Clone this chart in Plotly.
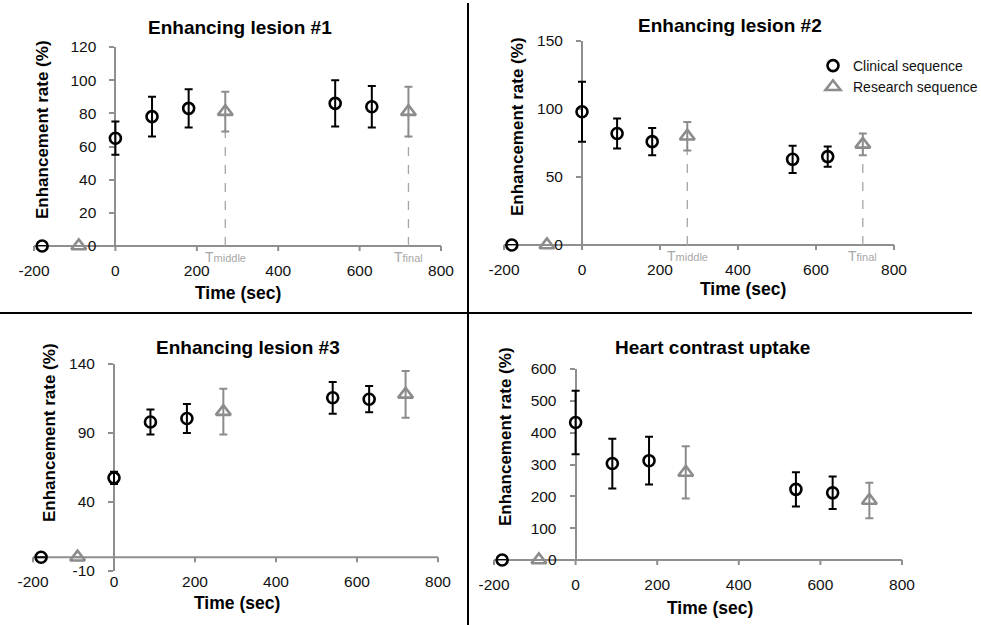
import plotly.graph_objects as go

W, H = 981, 625

# ---------------- data ----------------
clinical_time = [-180, 0, 90, 180, 540, 630]
research_time = [-90, 270, 720]

lesion1_clinical = [0, 65, 78, 83, 86, 84]
lesion1_clinical_err = [None, 10, 12, 11.5, 14, 12.5]
lesion1_research = [0, 81, 81]
lesion1_research_err = [None, 12, 15]

lesion2_clinical = [0, 98, 82, 76, 63, 65]
lesion2_clinical_err = [None, 22, 11, 10, 10, 7.5]
lesion2_research = [0, 80, 74]
lesion2_research_err = [None, 10.5, 8]

lesion3_clinical = [0, 57.5, 98, 100.5, 115.5, 114.5]
lesion3_clinical_err = [None, 4.5, 9, 10.5, 11.5, 9.5]
lesion3_research = [0, 105.5, 118]
lesion3_research_err = [None, 16.5, 17]

heart_clinical = [0, 432, 303, 312, 222, 211]
heart_clinical_err = [None, 100, 78, 75, 54, 51]
heart_research = [0, 275, 187]
heart_research_err = [None, 82, 56]

panel_titles = ["Enhancing lesion #1", "Enhancing lesion #2",
                "Enhancing lesion #3", "Heart contrast uptake"]
x_ticks = [-200, 0, 200, 400, 600, 800]
x_tick_labels = ["-200", "0", "200", "400", "600", "800"]
y_ticks = [[0, 20, 40, 60, 80, 100, 120],
           [0, 50, 100, 150],
           [-10, 40, 90, 140],
           [0, 100, 200, 300, 400, 500, 600]]
y_tick_labels = [["0", "20", "40", "60", "80", "100", "120"],
                 ["0", "50", "100", "150"],
                 ["-10", "40", "90", "140"],
                 ["0", "100", "200", "300", "400", "500", "600"]]
marker_labels = ["T<span style='font-size:11px'>middle</span>",
                 "T<span style='font-size:11px'>final</span>"]

series = [
    (lesion1_clinical, lesion1_clinical_err, lesion1_research, lesion1_research_err),
    (lesion2_clinical, lesion2_clinical_err, lesion2_research, lesion2_research_err),
    (lesion3_clinical, lesion3_clinical_err, lesion3_research, lesion3_research_err),
    (heart_clinical, heart_clinical_err, heart_research, heart_research_err),
]

# ---------------- layout geometry (pixels) ----------------
# (x_left_px, x_right_px, y_bottom_px, y_top_px)
panel_px = [
    (34, 441, 246, 47),
    (504, 894, 245, 41),
    (33, 438, 571, 364),
    (494, 902, 560, 369),
]
title_px = [(240, 27), (730, 25), (248, 347), (712, 347)]
ytitle_px = [(43, 130), (517, 127), (49, 433), (505, 436)]
xtitle_px = [(238, 293), (743, 289), (237, 603), (710, 608)]
TICK_PX = 5

FONT = "Liberation Sans, Arial, sans-serif"
BLACK = "#000000"
GREY = "#8c8c8c"
AXIS = "#8f8f8f"
XR = [-200, 800]

fig = go.Figure()
annotations = []
shapes = []

for i in range(4):
    n = i + 1
    xs = "" if n == 1 else str(n)
    xl, xr, yb, yt = panel_px[i]
    yr = [y_ticks[i][0], y_ticks[i][-1]]
    dx0, dx1 = xl / W, xr / W
    dy0, dy1 = 1 - yb / H, 1 - yt / H
    # paper position of the data-zero crossing for each axis
    ypos_of_x0 = dx0 + (0 - XR[0]) / (XR[1] - XR[0]) * (dx1 - dx0)
    xpos_of_y0 = dy0 + (0 - yr[0]) / (yr[1] - yr[0]) * (dy1 - dy0)

    fig.update_layout(**{
        f"xaxis{xs}": dict(domain=[dx0, dx1], range=XR, anchor="free",
                           position=xpos_of_y0, showline=False, ticks="",
                           tickvals=x_ticks, ticktext=x_tick_labels,
                           ticklabelstandoff=13, showgrid=False, zeroline=False,
                           tickfont=dict(family=FONT, size=15.5, color="#111")),
        f"yaxis{xs}": dict(domain=[dy0, dy1], range=yr, anchor="free",
                           position=ypos_of_x0, showline=True, linecolor=AXIS,
                           linewidth=2, ticks="outside", ticklen=TICK_PX,
                           tickcolor=AXIS, tickwidth=2, tickvals=y_ticks[i],
                           ticktext=y_tick_labels[i], layer="below traces",
                           ticklabelstandoff=10, showgrid=False, zeroline=False,
                           tickfont=dict(family=FONT, size=15.5, color="#111")),
    })

    # time-axis line at y = 0 and its tick marks (paper coordinates)
    shapes.append(dict(type="line", xref="paper", yref="paper", layer="below",
                       x0=dx0, x1=dx1, y0=xpos_of_y0, y1=xpos_of_y0,
                       line=dict(color=AXIS, width=2)))
    for t in x_ticks:
        xp = dx0 + (t - XR[0]) / (XR[1] - XR[0]) * (dx1 - dx0)
        shapes.append(dict(type="line", xref="paper", yref="paper",
                           layer="below", x0=xp, x1=xp, y0=xpos_of_y0,
                           y1=xpos_of_y0 - TICK_PX / H,
                           line=dict(color=AXIS, width=2)))

    cl, cle, rs, rse = series[i]
    xa, ya = f"x{xs}", f"y{xs}"

    # dashed guide lines to research time points (panels 1 and 2)
    if i < 2:
        for k, t in enumerate(research_time[1:]):
            fig.add_trace(go.Scatter(
                x=[t, t], y=[0, rs[k + 1]], mode="lines", xaxis=xa, yaxis=ya,
                line=dict(color="#a5a5a5", width=1.3, dash="dash"),
                showlegend=False, hoverinfo="skip", cliponaxis=False))
            annotations.append(dict(
                x=t, y=0, xref=xa, yref=ya, yshift=-11, showarrow=False,
                text=marker_labels[k],
                font=dict(family=FONT, size=14, color="#a8a8a8")))

    fig.add_trace(go.Scatter(
        x=clinical_time, y=cl, mode="markers", xaxis=xa, yaxis=ya,
        name="Clinical sequence", legendgroup="c", showlegend=(i == 1),
        marker=dict(symbol="circle-open", size=11, color=BLACK,
                    line=dict(width=2.6, color=BLACK)),
        error_y=dict(type="data", array=cle, visible=True, color=BLACK,
                     thickness=2, width=4),
        cliponaxis=False))
    fig.add_trace(go.Scatter(
        x=research_time, y=rs, mode="markers", xaxis=xa, yaxis=ya,
        name="Research sequence", legendgroup="r", showlegend=(i == 1),
        marker=dict(symbol="triangle-up-open", size=13, color=GREY,
                    line=dict(width=2.6, color=GREY)),
        error_y=dict(type="data", array=rse, visible=True, color=GREY,
                     thickness=2, width=4),
        cliponaxis=False))

    tx, ty = title_px[i]
    annotations.append(dict(x=tx / W, y=1 - ty / H, xref="paper", yref="paper",
                            text=f"<b>{panel_titles[i]}</b>", showarrow=False,
                            xanchor="center", yanchor="middle",
                            font=dict(family=FONT, size=19, color=BLACK)))
    yx, yy = ytitle_px[i]
    annotations.append(dict(x=yx / W, y=1 - yy / H, xref="paper", yref="paper",
                            text="<b>Enhancement rate (%)</b>", showarrow=False,
                            textangle=-90, xanchor="center", yanchor="middle",
                            font=dict(family=FONT, size=17, color=BLACK)))
    xx, xy = xtitle_px[i]
    annotations.append(dict(x=xx / W, y=1 - xy / H, xref="paper", yref="paper",
                            text="<b>Time (sec)</b>", showarrow=False,
                            xanchor="center", yanchor="middle",
                            font=dict(family=FONT, size=17.5, color=BLACK)))

shapes += [
    dict(type="line", xref="paper", yref="paper", x0=468 / W, x1=468 / W,
         y0=1 - 3 / H, y1=0, line=dict(color=BLACK, width=2)),
    dict(type="line", xref="paper", yref="paper", x0=0, x1=972 / W,
         y0=1 - 313 / H, y1=1 - 313 / H, line=dict(color=BLACK, width=2)),
]

fig.update_layout(
    width=W, height=H,
    margin=dict(l=0, r=0, t=0, b=0, autoexpand=False),
    plot_bgcolor="white", paper_bgcolor="white",
    annotations=annotations, shapes=shapes,
    legend=dict(x=813 / W, y=1 - 50 / H, xanchor="left", yanchor="top",
                font=dict(family=FONT, size=14, color="#111"),
                bgcolor="rgba(0,0,0,0)", tracegroupgap=0, itemwidth=30),
)

fig.write_html("out.html", config={"displayModeBar": False},
               post_script="document.body.style.margin='0';"
                           "document.body.style.overflow='hidden';")
